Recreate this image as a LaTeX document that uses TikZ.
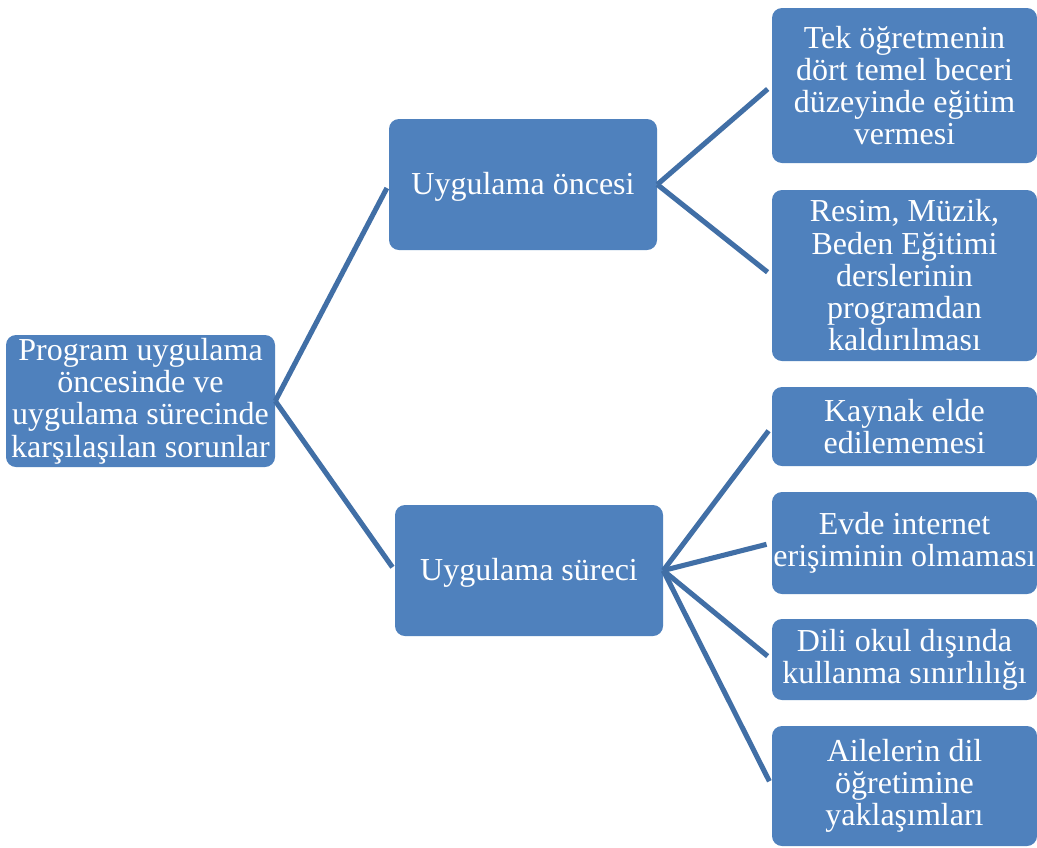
\documentclass[tikz,border=0pt]{standalone}
\usepackage{fontspec}
\setmainfont{Liberation Serif}
\definecolor{boxblue}{HTML}{4F81BD}
\definecolor{lineblue}{HTML}{416FA6}
\begin{document}
\begin{tikzpicture}[x=0.75pt,y=-0.75pt,
  box/.style={rectangle, rounded corners=7.5pt, fill=boxblue, draw=none,
    text=white, align=center, inner sep=0pt,
    font=\fontsize{24pt}{24.2pt}\selectfont},
  onebox/.style={box, text height=21pt, text depth=5.5pt},
  conn/.style={draw=lineblue, line width=3.8pt, shorten >=4pt}]
\useasboundingbox (0,0) rectangle (1037,847);
\fill[white] (0,0) rectangle (1037,847);
\node[box, minimum width=269*0.75pt, minimum height=132*0.75pt] (root) at (140.5,401)
  {Program uygulama\\öncesinde ve\\uygulama sürecinde\\karşılaşılan sorunlar};
\node[onebox, minimum width=268*0.75pt, minimum height=131*0.75pt] (a) at (523,184.5) {Uygulama öncesi};
\node[onebox, minimum width=268*0.75pt, minimum height=131*0.75pt] (b) at (529,570.5) {Uygulama süreci};
\node[box, minimum width=265*0.75pt, minimum height=155*0.75pt] (l1) at (904.5,85.5)
  {Tek öğretmenin\\dört temel beceri\\düzeyinde eğitim\\vermesi};
\node[box, minimum width=265*0.75pt, minimum height=171*0.75pt] (l2) at (904.5,275.5)
  {Resim, Müzik,\\Beden Eğitimi\\derslerinin\\programdan\\kaldırılması};
\node[box, minimum width=265*0.75pt, minimum height=79*0.75pt] (l3) at (904.5,426.5)
  {Kaynak elde\\edilememesi};
\node[box, minimum width=265*0.75pt, minimum height=102*0.75pt] (l4) at (904.5,543)
  {Evde internet\\erişiminin olmaması};
\node[box, minimum width=265*0.75pt, minimum height=81*0.75pt] (l5) at (904.5,659.5)
  {Dili okul dışında\\kullanma sınırlılığı};
\node[box, minimum width=265*0.75pt, minimum height=120*0.75pt] (l6) at (904.5,786)
  {Ailelerin dil\\öğretimine\\yaklaşımları};
\draw[conn, shorten >=3pt] (root.east) -- (a.west);
\draw[conn, shorten >=3pt] (root.east) -- (b.west);
\draw[conn] (a.east) -- (l1.west);
\draw[conn] (a.east) -- (l2.west);
\draw[conn] (b.east) -- (l3.west);
\draw[conn] (b.east) -- (l4.west);
\draw[conn] (b.east) -- (l5.west);
\draw[conn] (b.east) -- (l6.west);
\end{tikzpicture}
\end{document}
